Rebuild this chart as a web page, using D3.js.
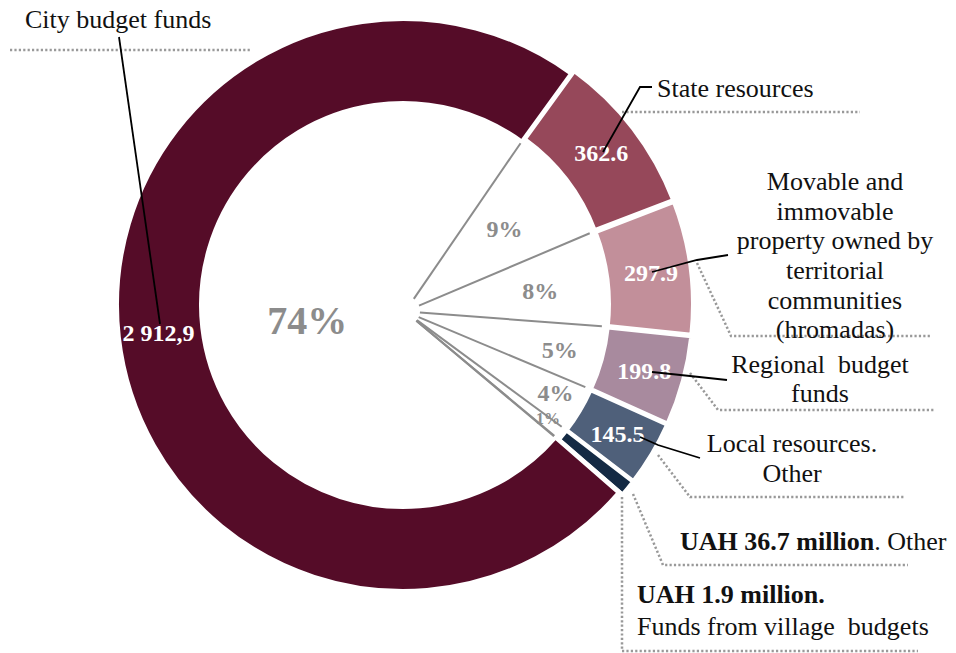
<!DOCTYPE html>
<html>
<head>
<meta charset="utf-8">
<script src="https://cdn.jsdelivr.net/npm/d3@7"></script>
<style>
  html, body { margin: 0; padding: 0; background: #fff; }
  svg { display: block; }
  text, tspan { font-family: "Liberation Serif", "Times New Roman", serif; }
</style>
</head>
<body>
<div id="chart"></div>
<script>
// data (UAH million), in drawing order clockwise from the State slice
const categories = ["State resources", "Property of territorial communities", "Regional budget funds",
                    "Local resources. Other", "Other", "Funds from village budgets", "City budget funds"];
const values = [362.6, 297.9, 199.8, 145.5, 36.7, 1.9, 2912.9];
const valueLabels = ["362.6", "297.9", "199.8", "145.5", "", "", "2 912,9"];
const pctLabels = ["9%", "8%", "5%", "4%", "1%", "", "74%"];
const colors = ["#96485a", "#c28f9a", "#a88a9e", "#4f607a", "#142a44", "#142a44", "#550c28"];

const width = 956, height = 653;
const cx = 403, cy = 305;
const outerR = 286, innerR = 202;

const svg = d3.select("#chart").append("svg")
  .attr("width", width)
  .attr("height", height);

const g = svg.append("g").attr("transform", `translate(${cx},${cy})`);

const rad = d => d * Math.PI / 180;

const pie = d3.pie().sort(null).value(d => d)
  .startAngle(rad(36)).endAngle(rad(36) + 2 * Math.PI);
const arcs = pie(values);

const arc = d3.arc().innerRadius(innerR).outerRadius(outerR);

// small offset for the right hand slices (exploded look)
function explode(d, i) {
  if (i === 6) return [0, 0];
  const a = (d.startAngle + d.endAngle) / 2;
  return [4 * Math.sin(a), -4 * Math.cos(a)];
}

g.selectAll("path.slice")
  .data(arcs)
  .join("path")
  .attr("class", "slice")
  .attr("d", arc)
  .attr("transform", (d, i) => `translate(${explode(d, i)})`)
  .attr("fill", (d, i) => colors[i])
  .attr("stroke", "#fff")
  .attr("stroke-width", 4)
  .attr("stroke-linejoin", "miter");

// grey spokes from the middle to the slice borders
const spokeAngles = arcs.slice(0, 6).map(d => d.startAngle).concat([arcs[5].endAngle]);
const ox = 2, oy = 6;
g.selectAll("line.spoke")
  .data(spokeAngles)
  .join("line")
  .attr("class", "spoke")
  .attr("x1", a => ox + 15 * Math.sin(a))
  .attr("y1", a => oy - 15 * Math.cos(a))
  .attr("x2", a => (innerR - 2) * Math.sin(a))
  .attr("y2", a => -(innerR - 2) * Math.cos(a))
  .attr("stroke", "#8c8c8c")
  .attr("stroke-width", 2);

// percent labels inside the hole
const pctPos = [[53, 127, 24], [84, 138, 24], [106, 163, 24], [120, 176, 24], [128, 184, 16], [0, 0, 0], [261, 97, 40]];
g.selectAll("text.pct")
  .data(arcs)
  .join("text")
  .attr("class", "pct")
  .attr("x", (d, i) => pctPos[i][1] * Math.sin(rad(pctPos[i][0])))
  .attr("y", (d, i) => -pctPos[i][1] * Math.cos(rad(pctPos[i][0])))
  .attr("dy", "0.35em")
  .attr("text-anchor", "middle")
  .attr("font-weight", "bold")
  .attr("font-size", (d, i) => pctPos[i][2])
  .attr("fill", "#8c8c8c")
  .text((d, i) => pctLabels[i]);

// value labels on the ring
const labelArc = d3.arc().innerRadius(246).outerRadius(246);
g.selectAll("text.val")
  .data(arcs)
  .join("text")
  .attr("class", "val")
  .attr("transform", (d, i) => {
    const c = labelArc.centroid(d), e = explode(d, i);
    return `translate(${c[0] + e[0]},${c[1] + e[1]})`;
  })
  .attr("dy", "0.35em")
  .attr("text-anchor", "middle")
  .attr("font-weight", "bold")
  .attr("font-size", 24)
  .attr("fill", "#fff")
  .text((d, i) => valueLabels[i]);

// annotations: dotted underlines, leader lines, label text
const dotted = [
  [[10, 50], [252, 50]],
  [[622, 112], [860, 112]],
  [[697, 263], [731, 336], [930, 336]],
  [[690, 373], [718, 410], [934, 410]],
  [[658, 455], [690, 497], [905, 497]],
  [[633, 494], [663, 565], [908, 565]],
  [[622, 497], [622, 651], [918, 651]]
];
const leaders = [
  [[119, 37], [160, 324]],
  [[603, 152], [640, 87], [652, 87]],
  [[652, 272], [697, 260], [728, 255]],
  [[652, 372], [690, 376], [727, 380]],
  [[640, 437], [658, 445], [700, 458]]
];
const line = d3.line();

svg.selectAll("path.dot")
  .data(dotted)
  .join("path")
  .attr("class", "dot")
  .attr("d", line)
  .attr("fill", "none")
  .attr("stroke", "#999")
  .attr("stroke-width", 2.5)
  .attr("stroke-dasharray", "2.2,2.2");

svg.selectAll("path.leader")
  .data(leaders)
  .join("path")
  .attr("class", "leader")
  .attr("d", line)
  .attr("fill", "none")
  .attr("stroke", "#000")
  .attr("stroke-width", 1.8);

const labelLines = [
  { x: 25, y: 28, anchor: "start", parts: [["City budget funds", false]] },
  { x: 657, y: 97, anchor: "start", parts: [["State resources", false]] },
  { x: 835, y: 190, anchor: "middle", parts: [["Movable and", false]] },
  { x: 835, y: 219.5, anchor: "middle", parts: [["immovable", false]] },
  { x: 835, y: 249, anchor: "middle", parts: [["property owned by", false]] },
  { x: 835, y: 279, anchor: "middle", parts: [["territorial", false]] },
  { x: 835, y: 308.5, anchor: "middle", parts: [["communities", false]] },
  { x: 835, y: 338, anchor: "middle", parts: [["(hromadas)", false]] },
  { x: 820, y: 373, anchor: "middle", parts: [["Regional\u00a0 budget", false]] },
  { x: 820, y: 402, anchor: "middle", parts: [["funds", false]] },
  { x: 792, y: 452, anchor: "middle", parts: [["Local resources.", false]] },
  { x: 792, y: 482, anchor: "middle", parts: [["Other", false]] },
  { x: 680, y: 550, anchor: "start", parts: [["UAH 36.7 million", true], [". Other", false]] },
  { x: 637, y: 603, anchor: "start", parts: [["UAH 1.9 million.", true]] },
  { x: 637, y: 635, anchor: "start", parts: [["Funds from village\u00a0 budgets", false]] }
];

svg.selectAll("text.lab")
  .data(labelLines)
  .join("text")
  .attr("class", "lab")
  .attr("x", d => d.x)
  .attr("y", d => d.y)
  .attr("text-anchor", d => d.anchor)
  .attr("font-size", 26)
  .attr("fill", "#111")
  .each(function (d) {
    d3.select(this).selectAll("tspan")
      .data(d.parts)
      .join("tspan")
      .attr("font-weight", p => p[1] ? "bold" : "normal")
      .text(p => p[0]);
  });
</script>
</body>
</html>
